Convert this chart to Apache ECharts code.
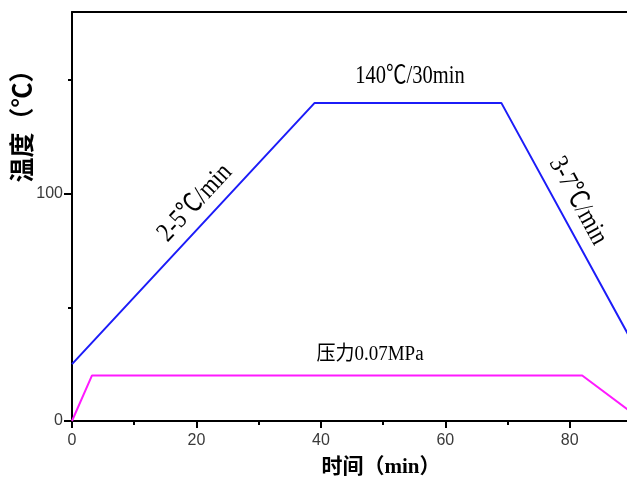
<!DOCTYPE html>
<html>
<head>
<meta charset="utf-8">
<script src="https://cdn.jsdelivr.net/npm/echarts@6/dist/echarts.min.js"></script>
<style>
  html, body { margin: 0; padding: 0; background: #fff; }
  #chart { width: 627px; height: 483px; }
</style>
</head>
<body>
<div id="chart"></div>
<script>
// Curing profile: temperature ramp / hold / cool, and applied pressure
const tempTime  = [0, 39, 69, 90];
const tempValue = [25, 140, 140, 35];
const pressTime  = [0, 3.2, 82, 90];
const pressValue = [0, 20, 20, 3.6];

const xMajorTicks = [0, 20, 40, 60, 80];
const xMinorTicks = [10, 30, 50, 70];
const yMajorTicks = [0, 100];
const yMinorTicks = [50, 150];

const serif = "'Liberation Serif', 'Noto Sans CJK SC', serif";
const tickFont = "'Liberation Sans', Arial, sans-serif";

function pairs(xs, ys) { return xs.map((x, i) => [x, ys[i]]); }

const chart = echarts.init(document.getElementById('chart'), null, { renderer: 'canvas' });

// visible part of the time axis (the frame runs past the right edge)
const baseX = { type: 'value', min: 0, max: 89.2, gridIndex: 0 };
const baseY = { type: 'value', min: 0, max: 180, gridIndex: 0, position: 'left' };

const centered = { align: 'center', verticalAlign: 'middle', textAlign: 'center', textVerticalAlign: 'middle' };

chart.setOption({
  animation: false,
  backgroundColor: '#fff',
  grid: { left: 72, top: 12, right: 0, bottom: 62 },
  xAxis: [
    Object.assign({}, baseX, {
      position: 'bottom',
      axisLine: { show: true, lineStyle: { color: '#000', width: 2 } },
      axisTick: { show: true, inside: false, length: 7, lineStyle: { color: '#000', width: 2 }, customValues: xMajorTicks },
      axisLabel: { show: true, margin: 12, fontSize: 16, color: '#3a3a3a', fontFamily: tickFont, customValues: xMajorTicks },
      splitLine: { show: false }
    }),
    Object.assign({}, baseX, {
      position: 'bottom',
      axisLine: { show: false },
      axisTick: { show: true, inside: false, length: 4, lineStyle: { color: '#000', width: 2 }, customValues: xMinorTicks },
      axisLabel: { show: false },
      splitLine: { show: false }
    }),
    Object.assign({}, baseX, {
      position: 'top',
      axisLine: { show: true, lineStyle: { color: '#000', width: 2 } },
      axisTick: { show: false },
      axisLabel: { show: false },
      splitLine: { show: false }
    })
  ],
  yAxis: [
    Object.assign({}, baseY, {
      axisLine: { show: true, lineStyle: { color: '#000', width: 2 } },
      axisTick: { show: true, inside: false, length: 8, lineStyle: { color: '#000', width: 2 }, customValues: yMajorTicks },
      axisLabel: { show: true, margin: 9, fontSize: 16, color: '#3a3a3a', fontFamily: tickFont, customValues: yMajorTicks },
      splitLine: { show: false }
    }),
    Object.assign({}, baseY, {
      axisLine: { show: false },
      axisTick: { show: true, inside: false, length: 4, lineStyle: { color: '#000', width: 2 }, customValues: yMinorTicks },
      axisLabel: { show: false },
      splitLine: { show: false }
    })
  ],
  series: [
    {
      name: '温度', type: 'line', xAxisIndex: 0, yAxisIndex: 0,
      data: pairs(tempTime, tempValue),
      symbol: 'none', lineStyle: { color: '#1c1cf8', width: 2 }, clip: true
    },
    {
      name: '压力', type: 'line', xAxisIndex: 0, yAxisIndex: 0,
      data: pairs(pressTime, pressValue),
      symbol: 'none', lineStyle: { color: '#ff1aff', width: 2 }, clip: true
    }
  ],
  graphic: [
    {
      type: 'text', x: 381, y: 468,
      style: Object.assign({ text: '时间（min）', fontSize: 21, fontWeight: 'bold', fontFamily: serif, fill: '#000' }, centered)
    },
    {
      type: 'text', x: 25, y: 120, rotation: Math.PI / 2,
      style: Object.assign({ text: '温度（℃）', fontSize: 25, fontWeight: 'bold', fontFamily: serif, fill: '#000' }, centered)
    },
    {
      type: 'text', x: 410, y: 76, scaleX: 0.82,
      style: Object.assign({ text: '140℃/30min', fontSize: 25, fontFamily: serif, fill: '#000' }, centered)
    },
    {
      type: 'text', x: 195, y: 203, rotation: 47 * Math.PI / 180, scaleX: 0.85,
      style: Object.assign({ text: '2-5℃/min', fontSize: 27, fontFamily: serif, fill: '#000' }, centered)
    },
    {
      type: 'text', x: 578, y: 201, rotation: -61.5 * Math.PI / 180, scaleX: 0.85,
      style: Object.assign({ text: '3-7℃/min', fontSize: 27, fontFamily: serif, fill: '#000' }, centered)
    },
    {
      type: 'text', x: 370, y: 355, scaleX: 0.95,
      style: Object.assign({ text: '压力0.07MPa', fontSize: 20, fontFamily: serif, fill: '#000' }, centered)
    }
  ]
});
</script>
</body>
</html>
